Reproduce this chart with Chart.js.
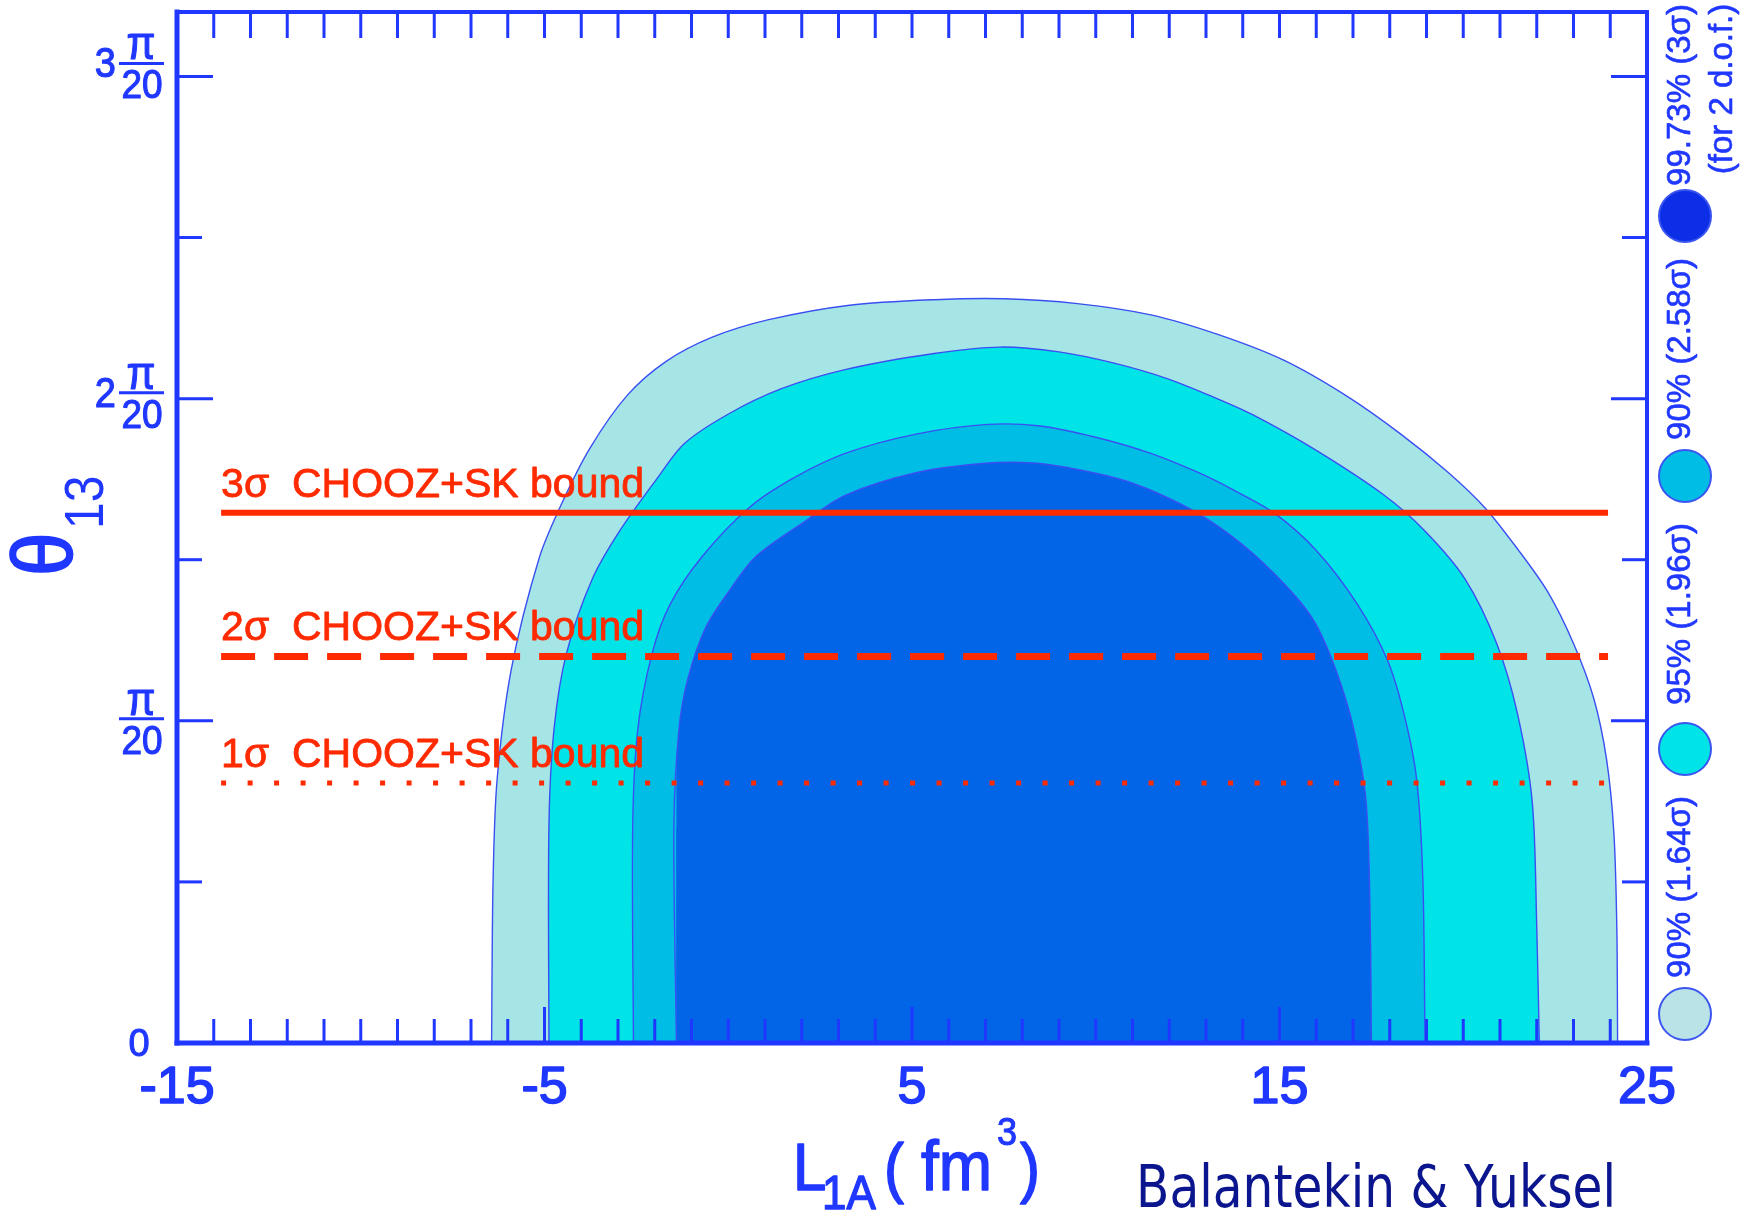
<!DOCTYPE html>
<html><head><meta charset="utf-8">
<script src="https://cdn.jsdelivr.net/npm/chart.js@4.4.1/dist/chart.umd.min.js"></script>
<style>html,body{margin:0;padding:0;background:#fff;overflow:hidden}canvas{display:block}</style>
</head><body>
<canvas id="c" width="1747" height="1214"></canvas>
<script>
// ---------- data (L1A in fm^3, theta13 in units of pi/20) ----------
const xTickValues = [-15, -5, 5, 15, 25];
const xTickLabels = ['-15', '-5', '5', '15', '25'];
const yTickValues = [0, 1, 2, 3];
const yTickLabels = ['0', 'π/20', '2π/20', '3π/20'];

// 90% (1.64 sigma) contour — outermost
const c164X = [-6.44, -6.40, -6.29, -5.90, -5.14, -4.55, -3.77, -2.75, -1.70, -0.45, 1.10, 3.30, 5.60, 7.50, 9.50, 11.50, 13.30, 15.10, 16.80, 18.30, 19.60, 20.60, 21.50, 22.30, 23.00, 23.55, 23.90, 24.10, 24.18, 24.20];
const c164Y = [0, 0.50, 0.817, 1.162, 1.507, 1.67, 1.845, 2.01, 2.115, 2.19, 2.245, 2.29, 2.307, 2.31, 2.295, 2.26, 2.20, 2.12, 2.01, 1.89, 1.77, 1.66, 1.53, 1.40, 1.24, 1.07, 0.88, 0.65, 0.35, 0];
// 95% (1.96 sigma) contour
const c196X = [-4.88, -4.88, -4.74, -4.40, -3.70, -2.95, -1.95, -1.20, -0.03, 1.43, 3.18, 5.60, 7.39, 9.00, 10.50, 12.00, 13.30, 14.27, 15.99, 17.85, 18.95, 20.05, 20.91, 21.48, 21.88, 22.00, 22.07];
const c196Y = [0, 0.67, 0.975, 1.21, 1.44, 1.59, 1.75, 1.86, 1.95, 2.03, 2.09, 2.14, 2.16, 2.145, 2.11, 2.06, 2.00, 1.95, 1.84, 1.70, 1.59, 1.44, 1.24, 1.02, 0.745, 0.36, 0];
// 90% (2.58 sigma) contour
const c258X = [-2.58, -2.60, -2.46, -2.07, -1.59, -0.71, 0.55, 1.72, 3.18, 5.11, 7.07, 8.50, 10.00, 11.50, 12.80, 13.69, 14.84, 15.99, 17.13, 17.93, 18.39, 18.73, 18.90, 18.96];
const c258Y = [0, 0.67, 0.975, 1.21, 1.36, 1.51, 1.66, 1.75, 1.83, 1.89, 1.92, 1.915, 1.88, 1.83, 1.77, 1.72, 1.646, 1.53, 1.36, 1.19, 1.02, 0.82, 0.51, 0];
// 99.73% (3 sigma) contour — innermost
const c3X = [-1.41, -1.48, -1.34, -1.10, -0.61, 0.07, 0.75, 2.10, 3.18, 5.11, 7.07, 8.30, 9.50, 10.80, 12.00, 13.12, 14.27, 15.41, 15.99, 16.56, 17.02, 17.36, 17.47, 17.50];
const c3Y = [0, 0.67, 0.975, 1.13, 1.29, 1.41, 1.51, 1.62, 1.70, 1.77, 1.80, 1.80, 1.78, 1.745, 1.69, 1.62, 1.52, 1.39, 1.30, 1.15, 0.975, 0.745, 0.36, 0];

// CHOOZ+SK bounds
const boundLabels = ['3σ  CHOOZ+SK bound', '2σ  CHOOZ+SK bound', '1σ  CHOOZ+SK bound'];
const boundTheta = [1.646, 1.20, 0.807];
const boundRange = [-13.8, 23.94];

const legendLabels = ['99.73% (3σ)', '90% (2.58σ)', '95% (1.96σ)', '90% (1.64σ)'];
const legendNote = '(for 2 d.o.f.)';
const xTitle = ['L', '1A', '(', 'fm', '3', ')'];
const yTitle = ['θ', '13'];
const credit = 'Balantekin & Yuksel';

// ---------- styling ----------
const AX = '#1f37ff';
const RED = '#ff2a00';
const OUTLINE = '#3a4ff2';
const FONT = '"Liberation Sans", Arial, sans-serif';
const legendColors = ['#0b2ee6', '#00bde6', '#00e4e8', '#bae3e7'];
const legendCircleY = [216, 476, 749, 1014];
const legendTextY = [95, 349, 614, 887];

function pts(xs, ys) { return xs.map((x, i) => ({ x: x, y: ys[i] })); }
function contour(label, xs, ys, color, order) {
  return { label, data: pts(xs, ys), backgroundColor: color, borderColor: OUTLINE, borderWidth: 1.4,
    fill: 'origin', pointRadius: 0, tension: 0.3, order };
}
function bound(label, th, width, dash, order) {
  return { label, data: pts(boundRange, [th, th]), borderColor: RED, borderWidth: width, borderDash: dash,
    borderCapStyle: 'butt', fill: false, pointRadius: 0, tension: 0, order };
}

function txt(ctx, s, x, y, font, color, align, sy, sx, rot, sw) {
  ctx.save();
  ctx.translate(x, y);
  if (rot) ctx.rotate(rot);
  ctx.scale(sx || 1, sy || 1);
  ctx.font = font; ctx.fillStyle = color; ctx.textAlign = align || 'left'; ctx.textBaseline = 'alphabetic';
  ctx.fillText(s, 0, 0);
  const w = (sw === undefined) ? 1 : sw;
  if (w > 0) { ctx.strokeStyle = color; ctx.lineWidth = w; ctx.lineJoin = 'round'; ctx.strokeText(s, 0, 0); }
  ctx.restore();
}
function seg(ctx, x1, y1, x2, y2) { ctx.beginPath(); ctx.moveTo(x1, y1); ctx.lineTo(x2, y2); ctx.stroke(); }

const deco = {
  id: 'deco',
  afterDatasetsDraw(chart) {
    const { ctx, scales: { x, y } } = chart;
    boundLabels.forEach((s, i) => {
      txt(ctx, s, x.getPixelForValue(boundRange[0]), y.getPixelForValue(boundTheta[i]) - 16, '41px ' + FONT, RED, 'left', 1, 1, 0, 0.8);
    });
  },
  afterDraw(chart) {
    const { ctx, chartArea: a, scales: { x, y } } = chart;
    ctx.save();
    ctx.strokeStyle = AX; ctx.lineCap = 'butt'; ctx.lineWidth = 3;
    for (let v = -14; v <= 24; v++) {
      const px = x.getPixelForValue(v);
      const major = ((v + 15) % 10 === 0);
      seg(ctx, px, a.bottom, px, a.bottom - (major ? 36 : 24));
      seg(ctx, px, a.top, px, a.top + 26);
    }
    for (let k = 1; k <= 6; k++) {
      const v = k * 0.5;
      const py = y.getPixelForValue(v);
      const major = (k % 2 === 0);
      seg(ctx, a.left, py, a.left + (major ? 36 : 25), py);
      seg(ctx, a.right, py, a.right - (major ? 36 : 25), py);
    }
    ctx.lineCap = 'square';
    ctx.lineWidth = 5;
    seg(ctx, a.left, a.top, a.left, a.bottom);
    seg(ctx, a.left, a.bottom, a.right, a.bottom);
    ctx.lineWidth = 4;
    seg(ctx, a.left, a.top, a.right, a.top);
    seg(ctx, a.right, a.top, a.right, a.bottom);
    ctx.restore();

    // x tick labels
    xTickValues.forEach((v, i) => {
      txt(ctx, xTickLabels[i], x.getPixelForValue(v), a.bottom + 60, '52px ' + FONT, AX, 'center', 1, 1, 0, 1.6);
    });
    // y tick labels (fractions of pi/20)
    const barOff = [0, -2, -6, -13];
    yTickValues.forEach((v, i) => {
      const py = y.getPixelForValue(v);
      const lab = yTickLabels[i];
      const m = lab.match(/^(\d*)π\/(\d+)$/);
      if (!m) { txt(ctx, lab, 139, py + 13, '38px ' + FONT, AX, 'center'); return; }
      const bar = py + barOff[i];
      ctx.save(); ctx.strokeStyle = AX; ctx.lineWidth = 3;
      seg(ctx, 119, bar, 164, bar); ctx.restore();
      txt(ctx, 'π', 141, bar - 4, '42px ' + FONT, AX, 'center', 1.12);
      txt(ctx, m[2], 142, bar + 35, '37px ' + FONT, AX, 'center', 1.12);
      if (m[1]) txt(ctx, m[1], 116, bar + 14, '38px ' + FONT, AX, 'right', 1.12);
    });
    // axis titles
    txt(ctx, xTitle[0], 793, 1190, '60px ' + FONT, AX, 'left', 1.1, 1, 0, 1.4);
    txt(ctx, xTitle[1], 822, 1209, '44px ' + FONT, AX, 'left', 1.1, 1, 0, 1.2);
    txt(ctx, xTitle[2], 884, 1190, '60px ' + FONT, AX, 'left', 1.1, 1, 0, 1.4);
    txt(ctx, xTitle[3], 921, 1190, '64px ' + FONT, AX, 'left', 1.1, 1, 0, 1.4);
    txt(ctx, xTitle[4], 997, 1145, '36px ' + FONT, AX, 'left', 1.1, 1, 0, 1);
    txt(ctx, xTitle[5], 1020, 1190, '60px ' + FONT, AX, 'left', 1.1, 1, 0, 1.4);
    ctx.save();
    ctx.translate(72, 576); ctx.rotate(-Math.PI / 2);
    ctx.fillStyle = AX; ctx.strokeStyle = AX; ctx.lineWidth = 1.6; ctx.textAlign = 'left';
    ctx.save(); ctx.scale(1, 1.1); ctx.font = '78px ' + FONT; ctx.fillText(yTitle[0], 0, 0); ctx.strokeText(yTitle[0], 0, 0); ctx.restore();
    ctx.save(); ctx.translate(47, 31); ctx.scale(1, 1.15); ctx.font = '48px ' + FONT; ctx.fillText(yTitle[1], 0, 0); ctx.restore();
    ctx.restore();

    // right-hand legend
    legendLabels.forEach((s, i) => {
      ctx.save();
      ctx.beginPath(); ctx.arc(1685, legendCircleY[i], 26, 0, Math.PI * 2);
      ctx.fillStyle = legendColors[i]; ctx.fill();
      ctx.strokeStyle = '#3a55f0'; ctx.lineWidth = 2; ctx.stroke();
      ctx.restore();
      txt(ctx, s, 1690, legendTextY[i], '33px ' + FONT, AX, 'center', 1, 1, -Math.PI / 2, 0.6);
    });
    txt(ctx, legendNote, 1732, 89, '33px ' + FONT, AX, 'center', 1, 1, -Math.PI / 2, 0.6);

    // credit
    ctx.save();
    ctx.font = '58px "DejaVu Sans", sans-serif';
    const w = ctx.measureText(credit).width;
    ctx.translate(1136, 1207); ctx.scale(480 / w, 1);
    ctx.fillStyle = '#0a158e'; ctx.textAlign = 'left'; ctx.fillText(credit, 0, 0);
    ctx.restore();
  }
};

new Chart(document.getElementById('c'), {
  type: 'line',
  data: {
    datasets: [
      contour('90% (1.64σ)', c164X, c164Y, '#a6e5e6', 10),
      contour('95% (1.96σ)', c196X, c196Y, '#00e4e8', 9),
      contour('90% (2.58σ)', c258X, c258Y, '#00bde6', 8),
      contour('99.73% (3σ)', c3X, c3Y, '#0265e8', 7),
      bound(boundLabels[0], boundTheta[0], 6, [], 3),
      bound(boundLabels[1], boundTheta[1], 7, [34, 19], 2),
      bound(boundLabels[2], boundTheta[2], 5, [5, 21.5], 1)
    ]
  },
  options: {
    responsive: false, animation: false, devicePixelRatio: 1,
    layout: { padding: { left: 177, right: 100, top: 12, bottom: 171 } },
    scales: {
      x: { type: 'linear', display: false, min: -15, max: 25 },
      y: { type: 'linear', display: false, min: 0, max: 3.2 }
    },
    plugins: { legend: { display: false }, tooltip: { enabled: false } }
  },
  plugins: [deco]
});
</script></body></html>
